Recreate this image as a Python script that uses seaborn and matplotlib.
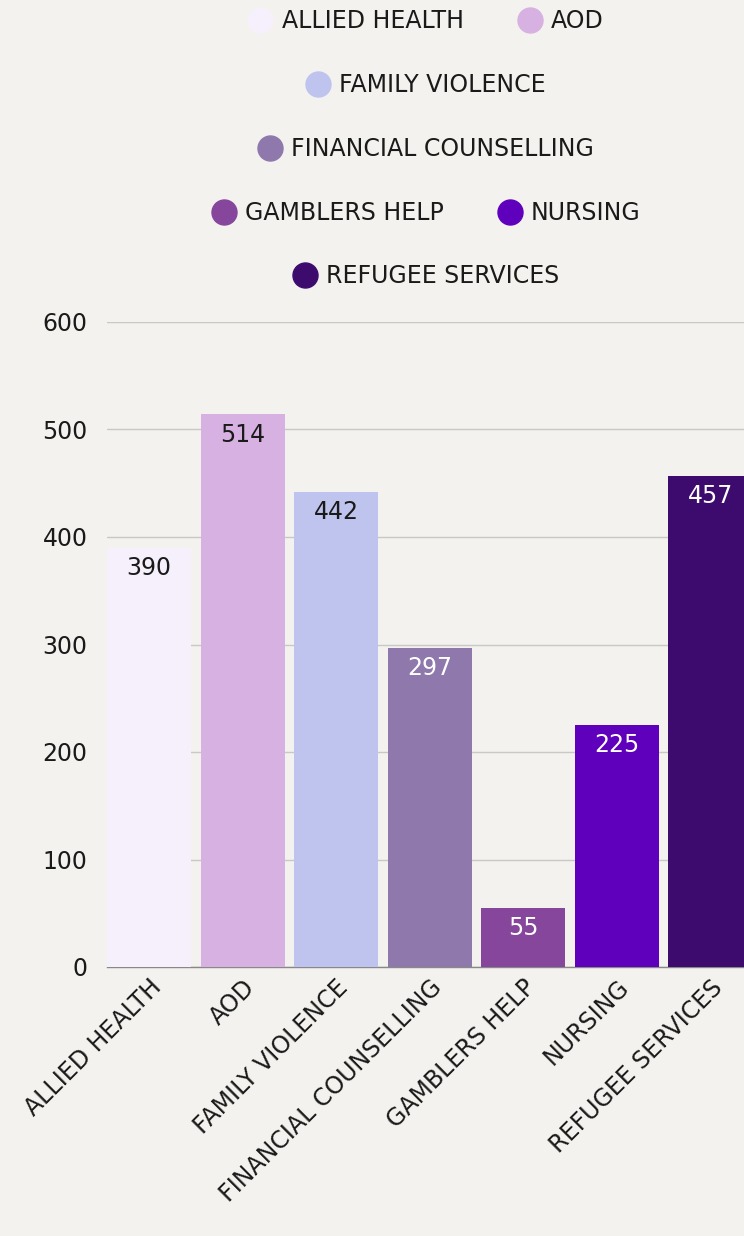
import matplotlib
matplotlib.use("Agg")
import matplotlib.pyplot as plt
from matplotlib.lines import Line2D
import seaborn as sns
import pandas as pd

categories = ["ALLIED HEALTH", "AOD", "FAMILY VIOLENCE", "FINANCIAL COUNSELLING",
              "GAMBLERS HELP", "NURSING", "REFUGEE SERVICES"]
values = [390, 514, 442, 297, 55, 225, 457]
colors = ["#F6F0FD", "#D7B1E2", "#BFC4EF", "#8E78AC", "#86469B", "#5F00BC", "#3D0B6E"]
label_colors = ["#1a1a1a", "#1a1a1a", "#1a1a1a", "white", "white", "white", "white"]
yticks = [0, 100, 200, 300, 400, 500, 600]
legend_rows = [[0, 1], [2], [3], [4, 5], [6]]

bg = "#F3F2EE"
sns.set_theme(style="white")
plt.rcParams["font.family"] = ["DejaVu Sans"]

fs = 17

fig = plt.figure(figsize=(7.44, 12.36), dpi=100, facecolor=bg)
ax = fig.add_axes([107/744, 1 - 967/1236, 1 - 107/744, (967 - 322)/1236])
ax.set_facecolor(bg)

df = pd.DataFrame({"cat": categories, "val": values})
sns.barplot(data=df, x="cat", y="val", hue="cat", palette=colors, width=0.9,
            dodge=False, legend=False, ax=ax, saturation=1, zorder=3,
            edgecolor="none", linewidth=0)

ax.set_xlim(-0.45, 6.36)
ax.set_ylim(0, 600)
ax.set_yticks(yticks)
ax.yaxis.grid(True, color="#C8C8C6", linewidth=1, zorder=0)
ax.set_axisbelow(True)
for s in ["top", "right", "left"]:
    ax.spines[s].set_visible(False)
ax.spines["bottom"].set_color("#888888")
ax.spines["bottom"].set_linewidth(1)
ax.set_xlabel("")
ax.set_ylabel("")
ax.tick_params(axis="y", length=0, pad=14, labelsize=fs, labelcolor="#1a1a1a")
ax.tick_params(axis="x", length=0, pad=6, labelsize=fs, labelcolor="#1a1a1a")
ax.set_xticks(range(len(categories)))
ax.set_xticklabels(categories, rotation=45, ha="right", va="top", rotation_mode="anchor")

for i, (v, c) in enumerate(zip(values, label_colors)):
    ax.annotate(str(v), (i, v), xytext=(0, -6), textcoords="offset points",
                ha="center", va="top", fontsize=fs, color=c, zorder=5)

row_y = [21, 85, 149, 213, 276]
for row, yy in zip(legend_rows, row_y):
    handles = [Line2D([], [], marker="o", linestyle="", markersize=18,
                      markerfacecolor=colors[k], markeredgecolor=colors[k])
               for k in row]
    labels = [categories[k] for k in row]
    fig.legend(handles, labels, loc="center", ncol=len(row),
               bbox_to_anchor=(425/744, 1 - yy/1236), frameon=False,
               fontsize=fs, handletextpad=0.3, columnspacing=2.2,
               handlelength=1.2, labelcolor="#1a1a1a")

fig.savefig("out.png", dpi=100, facecolor=bg)
